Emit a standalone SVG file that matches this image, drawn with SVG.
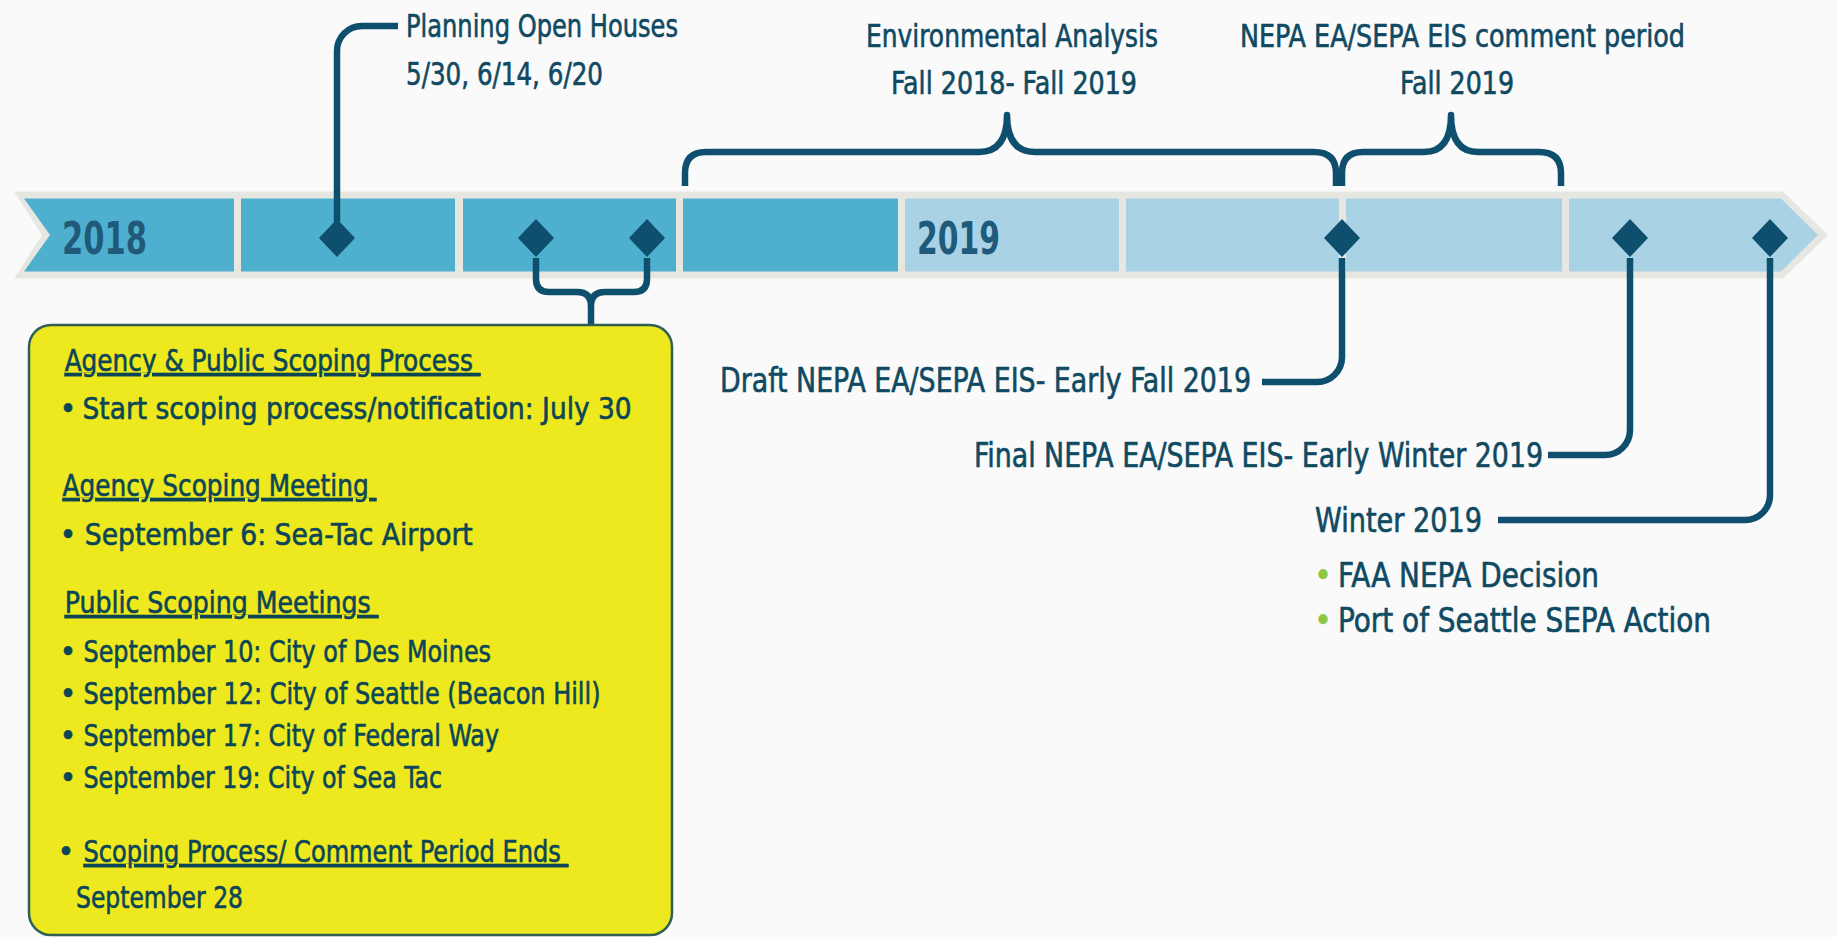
<svg xmlns="http://www.w3.org/2000/svg" width="1837" height="937" viewBox="0 0 1837 937">
  <style>
    .t { font-family: 'Liberation Sans Narrow', 'DejaVu Sans Condensed', 'Liberation Sans', sans-serif; fill: #0f4a62; stroke: #0f4a62; stroke-width: 0.6px; }
    .top { font-size: 32px; }
    .right { font-size: 33px; }
    .box { font-size: 31px; fill: #0c4656; stroke: #0c4656; }
    .ul { text-decoration: underline; }
    .year { font-family: 'Liberation Sans Narrow', 'DejaVu Sans Condensed', 'Liberation Sans', sans-serif; font-weight: bold; font-size: 45px; fill: #1f5a7b; }
    .mid { fill: #4eb0ce; }
    .light { fill: #a9d3e4; }
    .conn { fill: none; stroke: #0d4f6d; stroke-width: 6.5; stroke-linecap: butt; stroke-linejoin: round; }
    .dia { fill: #0d4f6d; }
    .gb { fill: #8dc641; stroke: #8dc641; }
  </style>
  <defs>
    <path id="dia" d="M0 -19 L18 0 L0 19 L-18 0 Z"/>
  </defs>
  <rect x="0" y="0" width="1837" height="937" fill="#fafafa"/>

  <g id="timeline-band">
    <polygon points="14,191.5 1783,191.5 1828,235 1783,278.5 14,278.5 42,235" fill="#e7e7e2"/>
    <polygon class="mid" points="24,198.5 234,198.5 234,271.5 24,271.5 50,235"/>
    <rect class="mid" x="241" y="198.5" width="214" height="73"/>
    <rect class="mid" x="463" y="198.5" width="213" height="73"/>
    <rect class="mid" x="683" y="198.5" width="215" height="73"/>
    <rect class="light" x="905" y="198.5" width="214" height="73"/>
    <rect class="light" x="1126" y="198.5" width="213" height="73"/>
    <rect class="light" x="1346" y="198.5" width="216" height="73"/>
    <polygon class="light" points="1569,198.5 1781,198.5 1818,235 1781,271.5 1569,271.5"/>
    <text class="year" x="62" y="254" textLength="85" lengthAdjust="spacingAndGlyphs">2018</text>
    <text class="year" x="917" y="254" textLength="83" lengthAdjust="spacingAndGlyphs">2019</text>
  </g>

  <g id="connectors">
    <path class="conn" d="M337 222 V51 A25 25 0 0 1 362 26 H398"/>
    <path class="conn" d="M536 258 V279 Q536 292 549 292 H577 Q591 292 591 306 V326 M647 258 V279 Q647 292 634 292 H605 Q591 292 591 306"/>
    <path class="conn" d="M685 186 V173 Q685 152 706 152 H979 Q1007 152 1007 115 Q1007 152 1035 152 H1314 Q1336 152 1336 173 V186"/>
    <path class="conn" d="M1342 186 V173 Q1342 152 1363 152 H1424 Q1451 152 1451 115 Q1451 152 1478 152 H1539 Q1561 152 1561 173 V186"/>
    <path class="conn" d="M1342 258 V357 A25 25 0 0 1 1317 382 H1262"/>
    <path class="conn" d="M1630 258 V430 A25 25 0 0 1 1605 455 H1548"/>
    <path class="conn" d="M1770 258 V495 A25 25 0 0 1 1745 520 H1498"/>
  </g>

  <g id="node-planning-open-houses">
    <use href="#dia" class="dia" x="337" y="238"/>
    <text class="t top" x="406" y="37" textLength="272" lengthAdjust="spacingAndGlyphs">Planning Open Houses</text>
    <text class="t top" x="406" y="85" textLength="197" lengthAdjust="spacingAndGlyphs">5/30, 6/14, 6/20</text>
  </g>

  <g id="node-environmental-analysis">
    <text class="t top" x="866" y="47" textLength="292" lengthAdjust="spacingAndGlyphs">Environmental Analysis</text>
    <text class="t top" x="891" y="94" textLength="246" lengthAdjust="spacingAndGlyphs">Fall 2018- Fall 2019</text>
  </g>

  <g id="node-comment-period">
    <text class="t top" x="1240" y="47" textLength="445" lengthAdjust="spacingAndGlyphs">NEPA EA/SEPA EIS comment period</text>
    <text class="t top" x="1400" y="94" textLength="114" lengthAdjust="spacingAndGlyphs">Fall 2019</text>
  </g>

  <g id="node-scoping">
    <use href="#dia" class="dia" x="536" y="238"/>
    <use href="#dia" class="dia" x="647" y="238"/>
    <rect x="29" y="325" width="643" height="610" rx="22" ry="22" fill="#ede91e" stroke="#2f5f56" stroke-width="2.5"/>
    <text class="t box ul" x="64.7" y="371" textLength="416" lengthAdjust="spacingAndGlyphs">Agency &amp; Public Scoping Process&#160;</text>
    <text class="t box" x="68" y="419" text-anchor="middle">•</text>
    <text class="t box" x="82.6" y="419" textLength="549" lengthAdjust="spacingAndGlyphs">Start scoping process/notification: July 30</text>
    <text class="t box ul" x="62.5" y="496" textLength="314" lengthAdjust="spacingAndGlyphs">Agency Scoping Meeting&#160;</text>
    <text class="t box" x="68" y="545" text-anchor="middle">•</text>
    <text class="t box" x="84.8" y="545" textLength="388" lengthAdjust="spacingAndGlyphs">September 6: Sea-Tac Airport</text>
    <text class="t box ul" x="64.7" y="613" textLength="314" lengthAdjust="spacingAndGlyphs">Public Scoping Meetings&#160;</text>
    <text class="t box" x="68" y="662" text-anchor="middle">•</text>
    <text class="t box" x="83.5" y="662" textLength="407.5" lengthAdjust="spacingAndGlyphs">September 10: City of Des Moines</text>
    <text class="t box" x="68" y="704" text-anchor="middle">•</text>
    <text class="t box" x="83.5" y="704" textLength="517" lengthAdjust="spacingAndGlyphs">September 12: City of Seattle (Beacon Hill)</text>
    <text class="t box" x="68" y="746" text-anchor="middle">•</text>
    <text class="t box" x="83.5" y="746" textLength="415.5" lengthAdjust="spacingAndGlyphs">September 17: City of Federal Way</text>
    <text class="t box" x="68" y="788" text-anchor="middle">•</text>
    <text class="t box" x="83.5" y="788" textLength="358.5" lengthAdjust="spacingAndGlyphs">September 19: City of Sea Tac</text>
    <text class="t box" x="66" y="862" text-anchor="middle">•</text>
    <text class="t box ul" x="83.5" y="862" textLength="485" lengthAdjust="spacingAndGlyphs">Scoping Process/ Comment Period Ends&#160;</text>
    <text class="t box" x="76" y="908" textLength="167" lengthAdjust="spacingAndGlyphs">September 28</text>
  </g>

  <g id="node-draft">
    <use href="#dia" class="dia" x="1342" y="238"/>
    <text class="t right" x="720" y="392" textLength="531" lengthAdjust="spacingAndGlyphs">Draft NEPA EA/SEPA EIS- Early Fall 2019</text>
  </g>

  <g id="node-final">
    <use href="#dia" class="dia" x="1630" y="238"/>
    <text class="t right" x="974" y="467" textLength="569" lengthAdjust="spacingAndGlyphs">Final NEPA EA/SEPA EIS- Early Winter 2019</text>
  </g>

  <g id="node-decision">
    <use href="#dia" class="dia" x="1770" y="238"/>
    <text class="t right" x="1315" y="532" textLength="167" lengthAdjust="spacingAndGlyphs">Winter 2019</text>
    <text class="t right gb" x="1323" y="587" text-anchor="middle">•</text>
    <text class="t right" x="1338" y="587" textLength="261" lengthAdjust="spacingAndGlyphs">FAA NEPA Decision</text>
    <text class="t right gb" x="1323" y="632" text-anchor="middle">•</text>
    <text class="t right" x="1338" y="632" textLength="373" lengthAdjust="spacingAndGlyphs">Port of Seattle SEPA Action</text>
  </g>
</svg>
